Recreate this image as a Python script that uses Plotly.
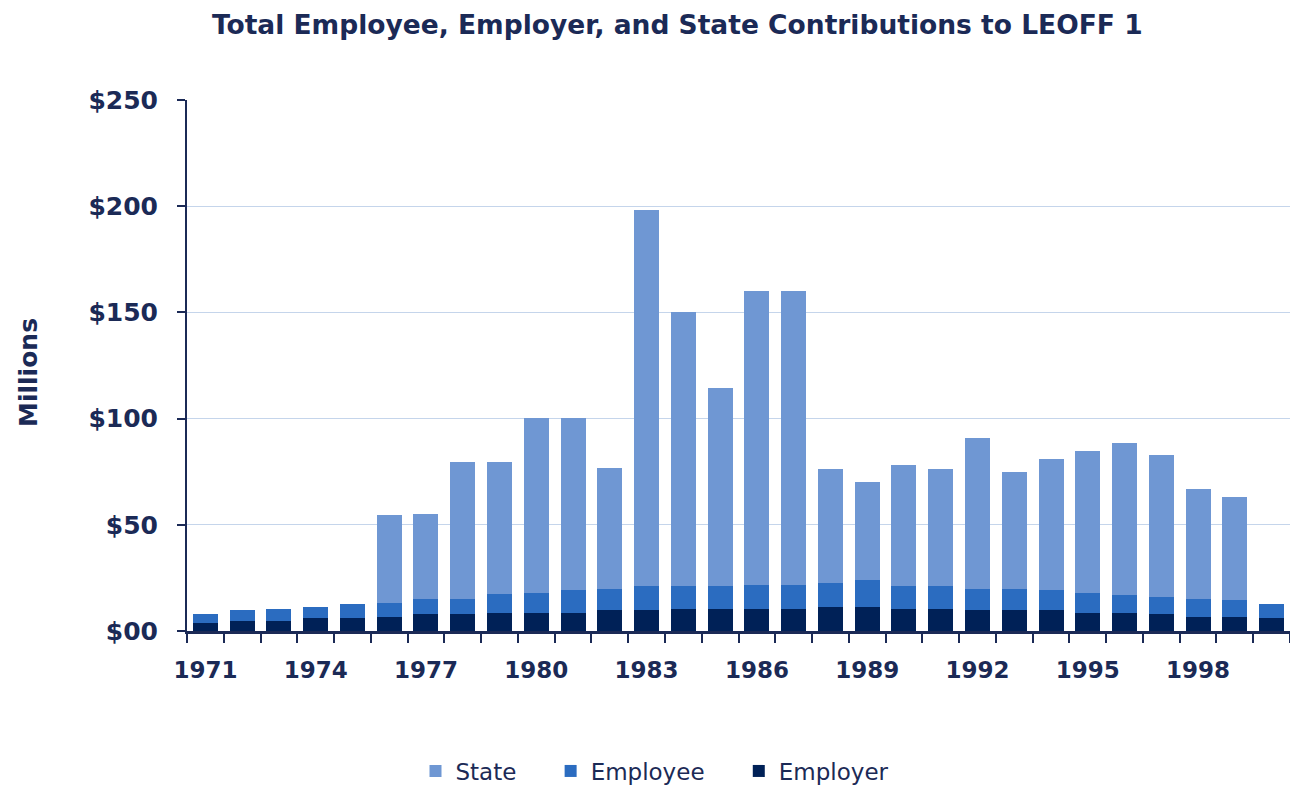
import plotly.graph_objects as go

years = list(range(1971, 2001))
employer = [3.9, 4.7, 4.7, 6.0, 6.0, 6.7, 7.8, 7.8, 8.6, 8.6,
            8.6, 9.7, 9.7, 10.5, 10.5, 10.5, 10.5, 11.4, 11.4, 10.5,
            10.5, 9.7, 9.7, 9.7, 8.6, 8.6, 7.8, 6.7, 6.7, 6.0]
employee = [4.0, 5.0, 5.8, 5.4, 6.6, 6.6, 7.4, 7.4, 8.7, 9.5,
            10.6, 10.3, 11.4, 10.6, 10.6, 11.3, 11.3, 11.3, 12.4, 10.6,
            10.6, 10.3, 10.3, 9.5, 9.5, 8.5, 8.4, 8.5, 7.7, 6.6]
state = [0, 0, 0, 0, 0, 41.1, 40.1, 64.5, 62.4, 82.4,
         81.3, 56.9, 176.9, 128.9, 93.3, 138.5, 138.5, 53.4, 46.5, 56.9,
         55.0, 71.1, 55.0, 61.6, 66.5, 71.2, 66.5, 51.5, 48.6, 0]
label_years = list(range(1971, 1999, 3))
y_ticks = [0, 50, 100, 150, 200, 250]
y_labels = ["$00", "$50", "$100", "$150", "$200", "$250"]

NAVY = "#1B2A56"
FONT = "DejaVu Sans"
PAD = "\u00a0" * 4

fig = go.Figure()
fig.add_trace(go.Bar(x=years, y=employer, name="Employer", marker_color="#002157",
                     marker_line_width=0))
fig.add_trace(go.Bar(x=years, y=employee, name="Employee" + PAD, marker_color="#2B6CC0",
                     marker_line_width=0))
fig.add_trace(go.Bar(x=years, y=state, name="State" + PAD, marker_color="#6F97D3",
                     marker_line_width=0))

boundaries = [y - 0.5 for y in years] + [years[-1] + 0.5]

fig.update_layout(
    barmode="stack",
    bargap=0.32,
    width=1290, height=785,
    margin=dict(l=187, r=0, t=100, b=154, autoexpand=False),
    plot_bgcolor="white", paper_bgcolor="white",
    font=dict(family=FONT, color=NAVY),
    title=dict(text="<b>Total Employee, Employer, and State Contributions to LEOFF 1</b>",
               x=0.525, xanchor="center", y=1 - 25 / 785, yanchor="middle",
               font=dict(size=26.5, color=NAVY, family=FONT)),
    legend=dict(orientation="h", x=(410 + 900) / 2 / 1290, xanchor="center", xref="container",
                y=(785 - 771) / 785, yanchor="middle", yref="container",
                traceorder="reversed", font=dict(size=23, color=NAVY, family=FONT),
                itemsizing="constant"),
    xaxis=dict(range=[1970.5, 2000.5], tickvals=label_years,
               ticktext=[str(v) for v in label_years],
               ticks="outside", ticklen=0, tickcolor="rgba(0,0,0,0)",
               ticklabelstandoff=16,
               showline=True, linecolor=NAVY, linewidth=3,
               tickfont=dict(size=23, color=NAVY, family=FONT, weight="bold"),
               showgrid=False, zeroline=False,
               minor=dict(tickvals=boundaries, ticks="outside", ticklen=9,
                          tickcolor=NAVY, tickwidth=2, showgrid=False)),
    yaxis=dict(range=[0, 250], tickvals=y_ticks, ticktext=y_labels,
               ticks="outside", ticklen=8, tickcolor=NAVY, tickwidth=1.5,
               ticklabelstandoff=14,
               showline=True, linecolor=NAVY, linewidth=2,
               gridcolor="#C5D5EB", gridwidth=1, zeroline=False,
               tickfont=dict(size=25, color=NAVY, family=FONT, weight="bold")),
    annotations=[dict(text="<b>Millions</b>", textangle=-90, xref="paper", yref="paper",
                      x=(28 - 187) / 1103, y=(631 - 373) / 531, xanchor="center", yanchor="middle",
                      showarrow=False, font=dict(size=25, color=NAVY, family=FONT))],
)

fig.write_html("out.html", config={"displayModeBar": False},
               post_script="document.body.style.margin='0';document.body.style.overflow='hidden';")
